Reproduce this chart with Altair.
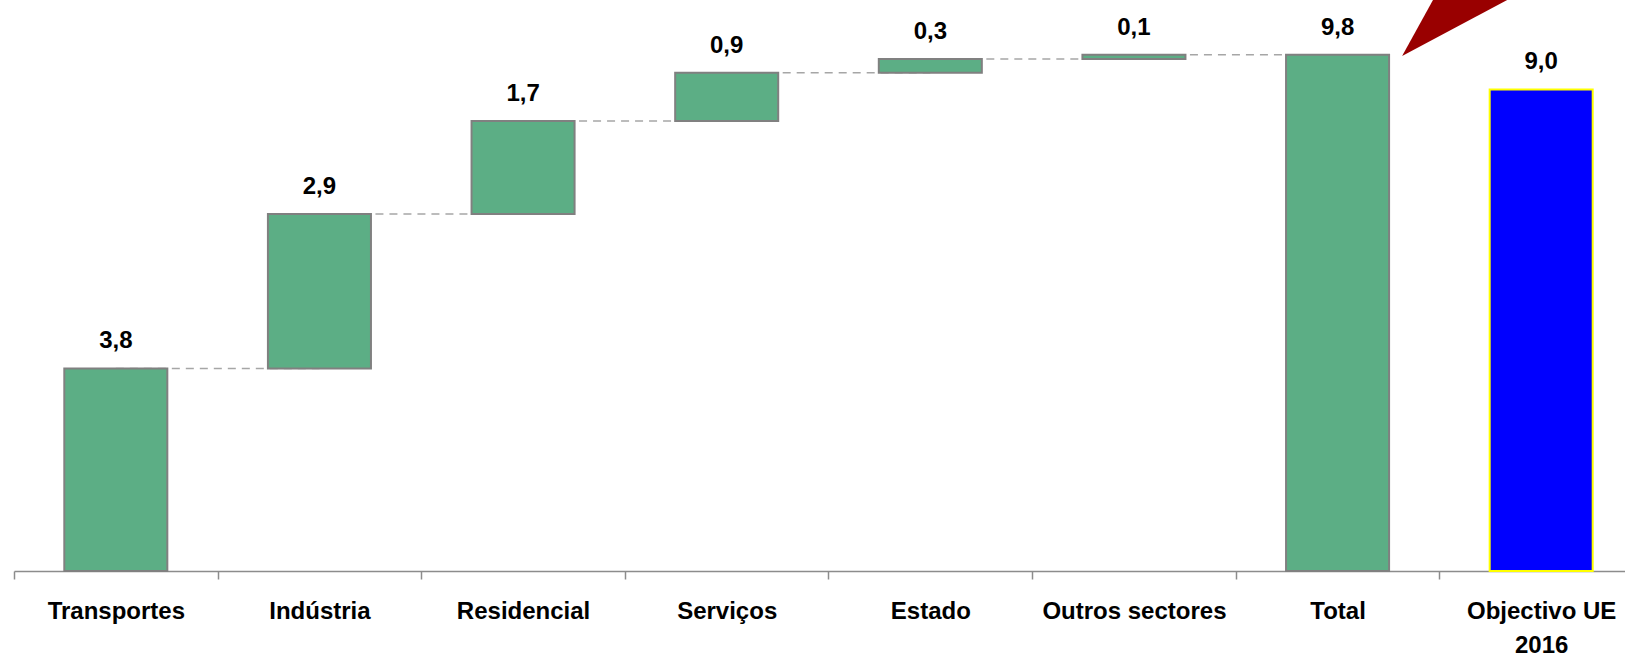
import altair as alt
import pandas as pd

# ---- data ----
categories = ["Transportes", "Indústria", "Residencial", "Serviços", "Estado",
              "Outros sectores", "Total", "Objectivo UE 2016"]
increments = [3.79, 2.89, 1.74, 0.90, 0.26, 0.08]   # sector contributions
total_value = 9.66
target_value = 9.01
value_labels = ["3,8", "2,9", "1,7", "0,9", "0,3", "0,1", "9,8", "9,0"]
kinds = ["step"] * 6 + ["total", "target"]

# red arrow decoration (data units: x in category index units, y in value units)
arrow_x = [6.817, 7.333]
arrow_y_upper = [9.635, 13.2]
arrow_y_lower = [9.635, 10.683]

# ---- tables ----
starts, ends = [], []
cum = 0.0
for v in increments:
    starts.append(cum)
    cum += v
    ends.append(cum)
starts += [0.0, 0.0]
ends += [total_value, target_value]

bars = pd.DataFrame({
    "cat": categories, "start": starts, "end": ends,
    "label": value_labels, "kind": kinds,
})

conn = pd.DataFrame({
    "cat": categories[:6],
    "next": categories[1:7],
    "level": ends[:6],
})

arrow = pd.DataFrame({"x": arrow_x, "yu": arrow_y_upper, "yl": arrow_y_lower})

STEP_RANGE = [0, 1629]
STEP = 1629 / 8
Y_MAX = 10.683
FONT = "Liberation Sans"


def xscale():
    return alt.Scale(domain=categories, range=STEP_RANGE, paddingInner=0.494, paddingOuter=0.247)


yscale = alt.Scale(domain=[0, Y_MAX], nice=False, zero=True)

xaxis = alt.Axis(
    title=None, labelFont=FONT, labelFontSize=24, labelFontWeight="bold",
    labelColor="#000000", labelAngle=0, labelPadding=20, labelLineHeight=34,
    labelExpr="datum.value == 'Objectivo UE 2016' ? ['Objectivo UE', '2016'] : datum.value",
    tickBand="center", tickOffset=-STEP / 2, labelOffset=STEP / 2,
    tickSize=8, tickColor="#8c8c8c", tickWidth=1.5,
    domainColor="#8c8c8c", domainWidth=1.5, grid=False, labelOverlap=False,
    labelBound=False, labelFlush=False, labelLimit=400, orient="bottom",
)

connectors = alt.Chart(conn).mark_rule(
    color="#a6a6a6", strokeDash=[8, 6], strokeWidth=1.5
).encode(
    x=alt.X("cat:N", scale=xscale(), axis=None, sort=categories),
    x2="next:N",
    y=alt.Y("level:Q", scale=yscale, axis=None),
)

bar_layer = alt.Chart(bars).mark_bar(strokeWidth=2).encode(
    x=alt.X("cat:N", scale=xscale(), axis=xaxis, sort=categories),
    y=alt.Y("start:Q", scale=yscale, axis=None),
    y2="end:Q",
    fill=alt.Fill("kind:N", scale=alt.Scale(domain=["step", "total", "target"],
                                            range=["#5cae85", "#5cae85", "#0000ff"]), legend=None),
    stroke=alt.Stroke("kind:N", scale=alt.Scale(domain=["step", "total", "target"],
                                                range=["#808080", "#808080", "#ffff00"]), legend=None),
)

text_layer = alt.Chart(bars).mark_text(
    font=FONT, fontSize=24, fontWeight="bold", color="#000000",
    baseline="alphabetic", dy=-20,
).encode(
    x=alt.X("cat:N", scale=xscale(), axis=None, sort=categories),
    y=alt.Y("end:Q", scale=yscale, axis=None),
    text="label:N",
)

arrow_layer = alt.Chart(arrow).mark_area(color="#990000", clip=False).encode(
    x=alt.X("x:Q", scale=alt.Scale(domain=[0, 8], range=STEP_RANGE, nice=False, zero=False), axis=None),
    y=alt.Y("yu:Q", scale=yscale, axis=None),
    y2="yl:Q",
)

chart = alt.layer(connectors, bar_layer, text_layer, arrow_layer).resolve_scale(
    x="independent"
).properties(
    width=1611, height=571,
    autosize=alt.AutoSizeParams(type="none"),
    padding={"left": 14, "top": 0, "right": 0, "bottom": 83},
).configure(background="#ffffff", view=alt.ViewConfig(stroke=None))

chart.save("out.html", embed_options={"renderer": "svg", "actions": False})
